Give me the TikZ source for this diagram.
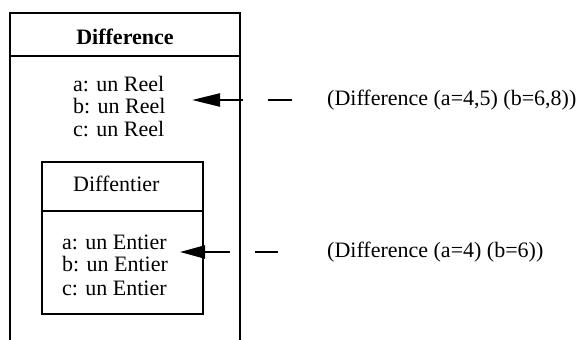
\documentclass[tikz,border=0pt]{standalone}
\usepackage{fontspec}
\setmainfont{Liberation Serif}
\usepackage{tikz}
\usetikzlibrary{arrows.meta, positioning}
\tikzset{
  frame/.style  ={draw, line width=2pt},
  title/.style  ={font=\fontsize{22}{22}\selectfont\bfseries, inner sep=0pt},
  attr/.style   ={font=\fontsize{22}{22}\selectfont, inner sep=0pt, anchor=base west},
  note/.style   ={font=\fontsize{22}{22}\selectfont, inner sep=0pt},
  refline/.style={-{Triangle[length=28pt, width=13pt]}, line width=2.2pt},
}

\begin{document}
\begin{tikzpicture}[x=1pt, y=-1pt]
  \useasboundingbox (0,0) rectangle (582,340);
  % outer class, open at the bottom
  \draw[frame] (10,340) -- (10,13) -- (240,13) -- (240,340);
  \draw[frame] (10,56) -- (240,56);
  \node[title, anchor=base] (diffTitle) at (125,44) {Difference};
  \node[attr] (reelA) at (73,91)  {a: un Reel};
  \node[attr] (reelB) at (73,113) {b: un Reel};
  \node[attr] (reelC) at (73,136) {c: un Reel};
  % inner class
  \draw[frame] (42,162) rectangle (203,314);
  \draw[frame] (42,211) -- (203,211);
  \node[attr] (entierTitle) at (73,191) {Diffentier};
  \node[attr] (entierA) at (62,249) {a: un Entier};
  \node[attr] (entierB) at (62,271) {b: un Entier};
  \node[attr] (entierC) at (62,295) {c: un Entier};
  % instances
  \node[note, anchor=west] (noteReel)   at (327,100) {(Difference (a=4,5) (b=6,8))};
  \node[note, anchor=west] (noteEntier) at (327,252) {(Difference (a=4) (b=6))};
  \coordinate (reelTip)   at (192,100);
  \coordinate (entierTip) at (180,252);
  \draw[refline, shorten <=35pt, dash pattern=on 24pt off 25pt on 90pt] (noteReel.west) -- (reelTip);
  \draw[refline, -{Triangle[length=25pt, width=13pt]}, shorten <=49pt, dash pattern=on 23pt off 25pt on 90pt] (noteEntier.west) -- (entierTip);
\end{tikzpicture}
\end{document}
